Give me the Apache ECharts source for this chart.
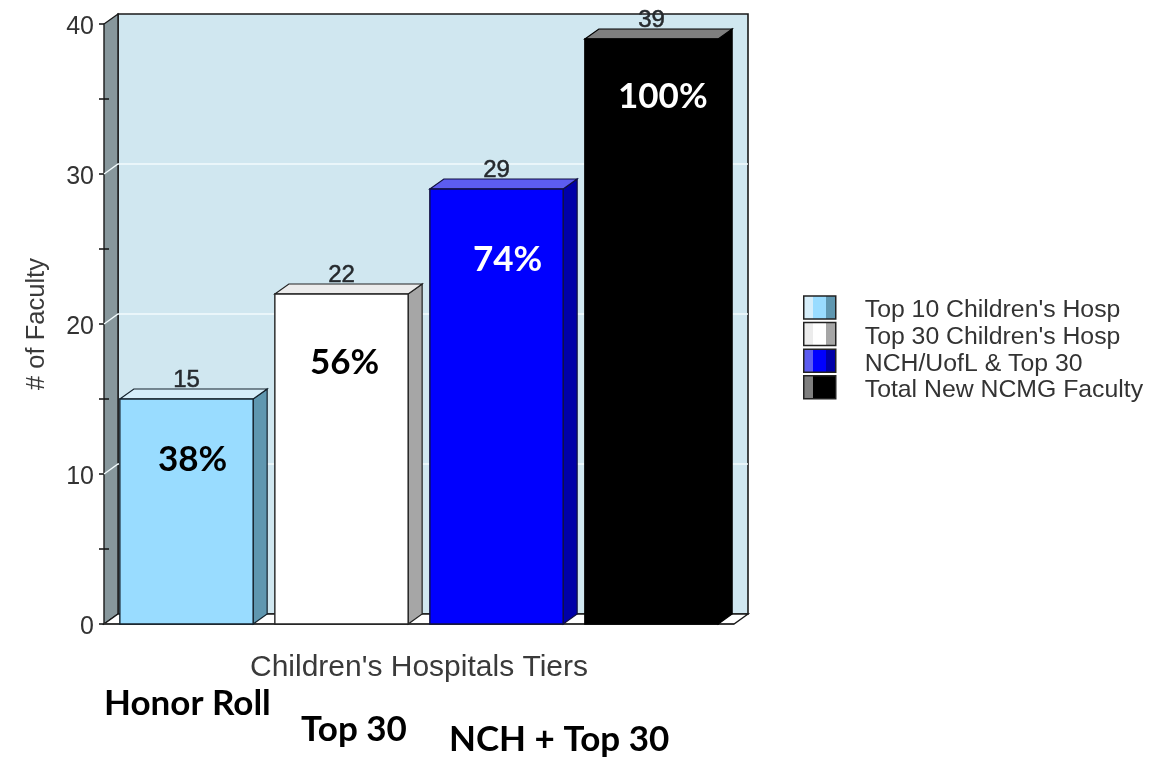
<!DOCTYPE html>
<html><head><meta charset="utf-8">
<style>html,body{margin:0;padding:0;background:#fff}#c{width:1158px;height:757px}</style>
<script src="https://cdn.jsdelivr.net/npm/echarts@6/dist/echarts.min.js"></script>
</head><body><div id="c"></div>
<script>
const tiers = ["Top 10 Children's Hosp","Top 30 Children's Hosp","NCH/UofL & Top 30","Total New NCMG Faculty"];
const values = [15,22,29,39];
const percents = ["38%","56%","74%","100%"];
const percentColors = ["#000","#000","#fff","#fff"];
const tierNotes = ["Honor Roll","Top 30","NCH + Top 30"];
const gridValues = [10,20,30];
const minorTicks = [5,15,25,35];
const frontColors = ["#99dcff","#ffffff","#0000ff","#000000"];
const sideColors = ["#5f97b0","#a6a6a6","#0000a8","#000000"];
const topColors = ["#d6eefa","#ececec","#5c5cf0","#7f7f7f"];
const edgeColors = ["#14222c","#222222","#101040","#000000"];

const DX = 14, DY = -10;

function poly(points, fill, stroke, lw){
  return {type:'polygon',shape:{points},style:{fill,stroke:stroke||null,lineWidth:lw||0}};
}
function renderWalls(params, api){
  const cs = params.coordSys;
  const L = cs.x - 5, R = cs.x + cs.width + 5, T = cs.y, B = cs.y + cs.height;
  const children = [
    poly([[L+DX,T+DY],[R+DX,T+DY],[R+DX,B+DY],[L+DX,B+DY]],'#d0e7f0','#1a1a1a',1.6),
    poly([[L,T],[L+DX,T+DY],[L+DX,B+DY],[L,B]],'#87979c','#1a1a1a',1.4),
    poly([[L,B],[L+DX,B+DY],[R+DX,B+DY],[R,B]],'#ffffff','#1a1a1a',1.4)
  ];
  gridValues.forEach(v=>{
    const y = api.coord([0,v])[1];
    children.push({type:'polyline',shape:{points:[[L,y],[L+DX,y+DY],[R+DX,y+DY]]},style:{stroke:'#f2fbfd',lineWidth:1.4,fill:null}});
  });
  minorTicks.forEach(v=>{
    const y = api.coord([0,v])[1];
    children.push({type:'line',shape:{x1:L,y1:y,x2:L+5,y2:y},style:{stroke:'#111',lineWidth:1.5}});
  });
  children.push({type:'line',shape:{x1:L,y1:B,x2:R,y2:B},style:{stroke:'#333',lineWidth:1.6}});
  return {type:'group',children};
}
function renderBar(i){
  return function(params, api){
    const idx = api.value(0), v = api.value(1);
    const top = api.coord([idx,v]), base = api.coord([idx,0]);
    const w = api.size([1,0])[0]*0.86;
    const x0 = top[0]-w/2, x1 = top[0]+w/2, yT = top[1], yB = base[1];
    const edge = edgeColors[i];
    return {type:'group',children:[
      poly([[x1,yT],[x1+DX,yT+DY],[x1+DX,yB+DY],[x1,yB]],sideColors[i],edge,1.2),
      poly([[x0,yT],[x0+DX,yT+DY],[x1+DX,yT+DY],[x1,yT]],topColors[i],edge,1.2),
      {type:'rect',shape:{x:x0,y:yT,width:w,height:yB-yT},style:{fill:frontColors[i],stroke:edge,lineWidth:1.4}},
      {type:'text',x:top[0],y:yT+DY-9,style:{text:String(v),fill:'#25292d',stroke:'#25292d',lineWidth:0.5,font:'24px "Liberation Sans"',align:'center',verticalAlign:'middle'}}
    ]};
  };
}
function hard(a,b,c){
  return {type:'linear',x:0,y:0,x2:1,y2:0,colorStops:[
    {offset:0,color:a},{offset:.3,color:a},{offset:.3,color:b},{offset:.7,color:b},{offset:.7,color:c},{offset:1,color:c}]};
}
const note = (t,x,y)=>({type:'text',left:x,top:y,z:50,style:{text:t,fill:'#000',font:'bold 35px Lato'}});
const pct = (i,x,y)=>({type:'text',left:x,top:y,z:50,style:{text:percents[i],fill:percentColors[i],font:'bold 35px Lato'}});

const chart = echarts.init(document.getElementById('c'),null,{renderer:'canvas'});
chart.setOption({
  animation:false,
  backgroundColor:'#fff',
  grid:{left:109,top:24,width:620,height:600,containLabel:false},
  xAxis:{type:'category',data:tiers,
    axisLine:{show:false},axisTick:{show:false},axisLabel:{show:false},
    name:"Children's Hospitals Tiers",nameLocation:'middle',nameGap:29,
    nameTextStyle:{fontFamily:'Liberation Sans',fontSize:30,color:'#3a3a3a'}},
  yAxis:{type:'value',min:0,max:40,interval:10,offset:5,
    axisLine:{show:false},splitLine:{show:false},
    axisTick:{show:true,length:5,lineStyle:{color:'#111',width:1.5}},
    minorTick:{show:true,splitNumber:2,length:5,lineStyle:{color:'#111',width:1.5}},
    minorSplitLine:{show:false},
    axisLabel:{margin:10,formatter:'{a|{value}}',
      rich:{a:{fontFamily:'Liberation Sans',fontSize:25,color:'#333',padding:[6,0,0,0]}}},
    name:'# of Faculty',nameLocation:'middle',nameGap:54,
    nameTextStyle:{fontFamily:'Liberation Sans',fontSize:25.5,color:'#3a3a3a'}},
  legend:{orient:'vertical',left:803,top:292,itemWidth:32,itemHeight:23,itemGap:-4.4,padding:0,
    selectedMode:false,
    formatter:n=>'{a|'+n+'}',
    textStyle:{rich:{a:{fontFamily:'Liberation Sans',fontSize:24.8,lineHeight:23,color:'#333',padding:[6,0,0,24]}}},
    data:tiers.map((name,i)=>({name,icon:'rect',itemStyle:{
      color:hard(topColors[i],frontColors[i],sideColors[i]),
      borderColor:'#222',borderWidth:1.5}}))},
  series:[
    {type:'custom',name:'walls',silent:true,z:1,data:[[0,0]],renderItem:renderWalls},
    ...tiers.map((name,i)=>({type:'custom',name,z:5,silent:true,
      encode:{x:0,y:1},data:[[i,values[i]]],renderItem:renderBar(i),itemStyle:{color:frontColors[i]}}))
  ],
  graphic:[
    pct(0,158,442),pct(1,310,345),pct(2,473,242),pct(3,618,79),
    note(tierNotes[0],104,686),note(tierNotes[1],301,712),note(tierNotes[2],449,722)
  ]
});
</script></body></html>
